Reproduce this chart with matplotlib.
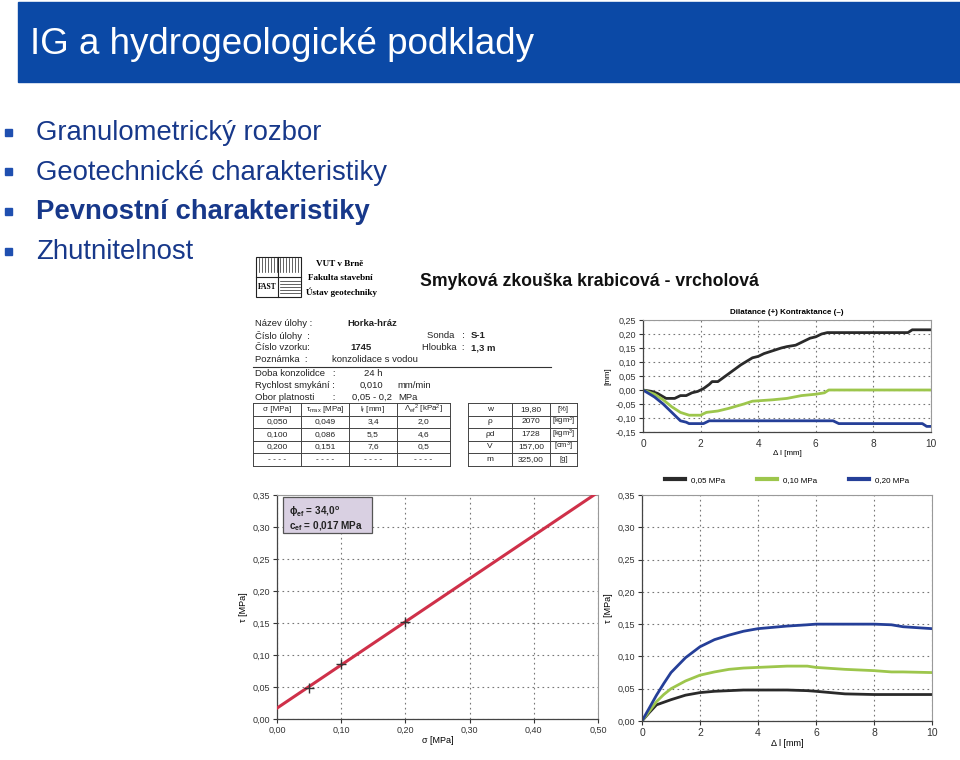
import matplotlib
matplotlib.use("Agg")
import matplotlib.pyplot as plt
from matplotlib.patches import Rectangle
import numpy as np

plt.rcParams['font.family'] = ['Liberation Sans', 'DejaVu Sans']
plt.rcParams['mathtext.fontset'] = 'custom'
plt.rcParams['mathtext.rm'] = 'Liberation Sans'
plt.rcParams['mathtext.it'] = 'Liberation Sans:italic'
plt.rcParams['mathtext.bf'] = 'Liberation Sans:bold'

# ---- slide text ----
slide_title = "IG a hydrogeologické podklady"
bullets = ["Granulometrický rozbor", "Geotechnické charakteristiky",
           "Pevnostní charakteristiky", "Zhutnitelnost"]
bold_bullet = 2

# ---- test protocol ----
sigma = [0.050, 0.100, 0.200]
tau_max = [0.049, 0.086, 0.151]
l_f = [3.4, 5.5, 7.6]
lam_ef = [2.0, 4.6, 0.5]
phys_names = ["w", "ρ", "ρd", "V", "m"]
phys_values = ["19,80", "2070", "1728", "157,00", "325,00"]
phys_units = ["[%]", "[kgm$^3$]", "[kgm$^3$]", "[cm$^3$]", "[g]"]
phi_ef = 34.0
c_ef = 0.017

# ---- dilatance curves (dl [mm], dh [mm]) ----
dil_x_005 = [0, 0.3, 0.5, 0.8, 1.1, 1.3, 1.5, 1.7, 1.9, 2.1, 2.3, 2.4, 2.6, 3.0, 3.4,
             3.8, 4.0, 4.2, 4.5, 4.8, 5.0, 5.3, 5.5, 5.8, 6.0, 6.2, 6.4, 9.2, 9.35, 10]
dil_y_005 = [0, -0.005, -0.012, -0.03, -0.03, -0.02, -0.02, -0.01, -0.005, 0.005, 0.02, 0.03,
             0.03, 0.06, 0.09, 0.115, 0.12, 0.13, 0.14, 0.15, 0.155, 0.16, 0.17, 0.185, 0.19,
             0.2, 0.205, 0.205, 0.215, 0.215]
dil_x_010 = [0, 0.4, 0.7, 1.0, 1.3, 1.6, 2.0, 2.2, 2.6, 3.0, 3.5, 3.8, 4.5, 5.0, 5.5,
             6.0, 6.3, 6.45, 10]
dil_y_010 = [0, -0.015, -0.035, -0.06, -0.08, -0.09, -0.09, -0.08, -0.075, -0.065, -0.05,
             -0.04, -0.035, -0.03, -0.02, -0.015, -0.01, 0.0, 0.0]
dil_x_020 = [0, 0.4, 0.7, 0.9, 1.1, 1.3, 1.5, 1.6, 2.1, 2.3, 6.6, 6.8, 9.7, 9.85, 10]
dil_y_020 = [0, -0.025, -0.05, -0.07, -0.09, -0.11, -0.115, -0.12, -0.12, -0.11, -0.11,
             -0.12, -0.12, -0.13, -0.13]

# ---- shear stress curves (dl [mm], tau [MPa]) ----
sh_x = [0, 0.25, 0.5, 0.75, 1.0, 1.5, 2.0, 2.5, 3.0, 3.5, 4.0, 5.0, 5.7, 6.0, 7.0, 8.0,
        8.6, 9.0, 10.0]
sh_005 = [0, 0.013, 0.025, 0.029, 0.033, 0.040, 0.044, 0.046, 0.047, 0.048, 0.048, 0.048,
          0.047, 0.046, 0.042, 0.041, 0.041, 0.041, 0.041]
sh_010 = [0, 0.015, 0.030, 0.041, 0.050, 0.062, 0.071, 0.076, 0.080, 0.082, 0.083, 0.085,
          0.085, 0.083, 0.080, 0.078, 0.076, 0.076, 0.075]
sh_020 = [0, 0.020, 0.040, 0.058, 0.075, 0.098, 0.115, 0.126, 0.133, 0.139, 0.143, 0.147,
          0.149, 0.150, 0.150, 0.150, 0.149, 0.146, 0.143]

series_labels = ["0,05 MPa", "0,10 MPa", "0,20 MPa"]
series_colors = ["#2a2a2a", "#9dc64c", "#253f98"]

W, H = 960, 760
fig = plt.figure(figsize=(W / 100, H / 100), dpi=100)
fig.patch.set_facecolor("white")


def rect(x0, y0, x1, y1):
    return [x0 / W, 1 - y1 / H, (x1 - x0) / W, (y1 - y0) / H]


def comma(v, nd):
    return f"{v:.{nd}f}".replace(".", ",")


# overlay in pixel coordinates
ov = fig.add_axes([0, 0, 1, 1])
ov.set_xlim(0, W)
ov.set_ylim(H, 0)
ov.axis("off")

# header
ov.add_patch(Rectangle((18, 2), 942, 80, color="#0b49a6"))
ov.text(30, 45, slide_title, color="white", fontsize=26.5, va="center")

for i, b in enumerate(bullets):
    y = 133 + i * 39.7
    ov.add_patch(Rectangle((5, y - 4.5), 7, 7, color="#1f4fb0"))
    ov.text(36, y, b, color="#17388a", fontsize=19.8, va="center",
            fontweight="bold" if i == bold_bullet else "normal")

# logo
lc = "#222222"
ov.add_patch(Rectangle((256, 257), 45, 40, fill=False, ec=lc, lw=0.8))
ov.plot([256, 301], [277, 277], color=lc, lw=0.8)
ov.plot([278, 278], [257, 297], color=lc, lw=0.8)
for xx in np.arange(259, 300, 3):
    ov.plot([xx, xx], [258, 272], color=lc, lw=0.5)
for yy in np.arange(281, 296, 3):
    ov.plot([280, 300], [yy, yy], color=lc, lw=0.5)
ov.text(267, 287, "FAST", fontsize=5.5, ha="center", va="center",
        family="Liberation Serif", fontweight="bold")
for k, t in enumerate(["VUT v Brně", "Fakulta stavební", "Ústav geotechniky"]):
    ov.text(316 if k == 0 else (308 if k == 1 else 306), 264 + k * 14, t, fontsize=6.6,
            va="center", family="Liberation Serif", fontweight="bold")

ov.text(420, 281, "Smyková zkouška krabicová - vrcholová", fontsize=12.7,
        fontweight="bold", va="center", color="#111111")

# info block
fs = 6.8
tc = "#222222"
ov.text(255, 323, "Název úlohy :", fontsize=fs, va="center", color=tc)
ov.text(347, 323, "Horka-hráz", fontsize=fs, va="center", fontweight="bold", color=tc)
ov.text(255, 336, "Číslo úlohy  :", fontsize=fs, va="center", color=tc)
ov.text(427, 336, "Sonda   :", fontsize=fs, va="center", color=tc)
ov.text(471, 336, "S-1", fontsize=fs, va="center", fontweight="bold", color=tc)
ov.text(255, 348, "Číslo vzorku:", fontsize=fs, va="center", color=tc)
ov.text(350, 348, "1745", fontsize=fs, va="center", fontweight="bold", color=tc)
ov.text(422, 348, "Hloubka  :", fontsize=fs, va="center", color=tc)
ov.text(471, 348, "1,3 m", fontsize=fs, va="center", fontweight="bold", color=tc)
ov.text(255, 360, "Poznámka  :", fontsize=fs, va="center", color=tc)
ov.text(332, 360, "konzolidace s vodou", fontsize=fs, va="center", color=tc)
ov.plot([253, 551], [366.5, 366.5], color="#333333", lw=0.8)
ov.text(255, 373, "Doba konzolidce   :", fontsize=fs, va="center", color=tc)
ov.text(364, 373, "24 h", fontsize=fs, va="center", color=tc)
ov.text(255, 385, "Rychlost smykání :", fontsize=fs, va="center", color=tc)
ov.text(360, 385, "0,010", fontsize=fs, va="center", color=tc)
ov.text(397, 385, "mm/min", fontsize=fs, va="center", color=tc)
ov.text(255, 397, "Obor platnosti       :", fontsize=fs, va="center", color=tc)
ov.text(352, 397, "0,05 - 0,2", fontsize=fs, va="center", color=tc)
ov.text(398, 397, "MPa", fontsize=fs, va="center", color=tc)

# left table
tx = [253, 301, 349, 397, 450]
ty = [403, 415.5, 428, 440.5, 453, 465.5]
for x in tx:
    ov.plot([x, x], [ty[0], ty[-1]], color="#444444", lw=0.7)
for y in ty:
    ov.plot([tx[0], tx[-1]], [y, y], color="#444444", lw=0.7)
heads = ["σ [MPa]", "τ$_\\mathrm{max}$ [MPa]", "l$_\\mathrm{f}$ [mm]",
         "Λ$_\\mathrm{ef}$$^\\mathrm{2}$ [kPa$^\\mathrm{2}$]"]
for j, h in enumerate(heads):
    ov.text((tx[j] + tx[j + 1]) / 2, (ty[0] + ty[1]) / 2, h, fontsize=5.8,
            ha="center", va="center", color=tc)
rows = [[comma(s, 3), comma(t, 3), comma(l, 1), comma(a, 1)]
        for s, t, l, a in zip(sigma, tau_max, l_f, lam_ef)]
rows.append(["- - - -"] * 4)
for i, r in enumerate(rows):
    for j, v in enumerate(r):
        ov.text((tx[j] + tx[j + 1]) / 2, (ty[i + 1] + ty[i + 2]) / 2, v, fontsize=6,
                ha="center", va="center", color=tc)

# right table
rx = [468, 512, 550, 577]
for x in rx:
    ov.plot([x, x], [ty[0], ty[-1]], color="#444444", lw=0.7)
for y in ty:
    ov.plot([rx[0], rx[-1]], [y, y], color="#444444", lw=0.7)
for i in range(5):
    yc = (ty[i] + ty[i + 1]) / 2
    ov.text((rx[0] + rx[1]) / 2, yc, phys_names[i], fontsize=6, ha="center", va="center", color=tc)
    ov.text((rx[1] + rx[2]) / 2, yc, phys_values[i], fontsize=6, ha="center", va="center", color=tc)
    ov.text((rx[2] + rx[3]) / 2, yc, phys_units[i], fontsize=5.5, ha="center", va="center", color=tc)


def style_axes(ax):
    ax.grid(True, color="#777777", lw=0.8, ls=(0, (1.5, 3)))
    ax.tick_params(labelsize=6.5, length=3, width=0.8, colors="#333333", pad=2)
    for s in ["top", "right"]:
        ax.spines[s].set_color("#9a9a9a")
        ax.spines[s].set_linewidth(0.8)
    for s in ["left", "bottom"]:
        ax.spines[s].set_color("#444444")
        ax.spines[s].set_linewidth(0.9)
    ax.set_facecolor("white")


# dilatance chart
ax1 = fig.add_axes(rect(643, 320, 931, 432))
for xs, ys, c in zip([dil_x_005, dil_x_010, dil_x_020], [dil_y_005, dil_y_010, dil_y_020],
                     series_colors):
    ax1.plot(xs, ys, color=c, lw=2.0)
ax1.set_xlim(0, 10)
ax1.set_ylim(-0.15, 0.25)
ax1.set_xticks(range(0, 11, 2))
ax1.set_yticks(np.arange(-0.15, 0.251, 0.05))
ax1.set_yticklabels([comma(v, 2) for v in np.arange(-0.15, 0.251, 0.05)])
style_axes(ax1)
ax1.tick_params(axis="x", length=0, pad=5, labelsize=7.3)
ax1.set_xlabel("Δ l [mm]", fontsize=5.8, labelpad=1)
ax1.set_ylabel("[mm]", fontsize=5.8, labelpad=3)
ax1.set_title("Dilatance (+) Kontraktance (–)", fontsize=5.8, fontweight="bold", pad=4)
leg = ax1.legend(series_labels, loc="upper center", bbox_to_anchor=(0.5, -0.33), ncol=3,
                 frameon=False, fontsize=5.8, handlelength=2.5, handletextpad=0.7,
                 columnspacing=4.0)
for line in leg.get_lines():
    line.set_linewidth(3)

# shear envelope
ax2 = fig.add_axes(rect(277, 495, 598, 719))
sg = np.array([0.0, 0.5])
ax2.plot(sg, c_ef + sg * np.tan(np.radians(phi_ef)), color="#cf3049", lw=2.2, zorder=3)
ax2.plot(sigma, tau_max, "+", color="#333333", ms=7, mew=1.0, zorder=4)
ax2.set_xlim(0, 0.5)
ax2.set_ylim(0, 0.35)
xt = np.arange(0, 0.501, 0.1)
yt = np.arange(0, 0.351, 0.05)
ax2.set_xticks(xt)
ax2.set_xticklabels([comma(v, 2) for v in xt])
ax2.set_yticks(yt)
ax2.set_yticklabels([comma(v, 2) for v in yt])
style_axes(ax2)
ax2.set_xlabel("σ [MPa]", fontsize=6.5, labelpad=1)
ax2.set_ylabel("τ [MPa]", fontsize=6.5, labelpad=3)
ax2.add_patch(Rectangle((0.0187, 0.830), 0.277, 0.161, transform=ax2.transAxes,
                        fc="#d9d0e2", ec="#555555", lw=0.9, zorder=5))
ax2.text(0.037, 0.924, "ϕ$_\\mathbf{ef}$ = " + comma(phi_ef, 1) + "$^\\mathbf{o}$",
         transform=ax2.transAxes, fontsize=7.2, fontweight="bold", va="center",
         color="#222222", zorder=6)
ax2.text(0.037, 0.862, "c$_\\mathbf{ef}$ = " + comma(c_ef, 3) + " MPa",
         transform=ax2.transAxes, fontsize=7.2, fontweight="bold", va="center",
         color="#222222", zorder=6)

# shear curves
ax3 = fig.add_axes(rect(642, 495, 932, 721))
for ys, c in zip([sh_005, sh_010, sh_020], series_colors):
    ax3.plot(sh_x, ys, color=c, lw=2.0)
ax3.set_xlim(0, 10)
ax3.set_ylim(0, 0.35)
ax3.set_xticks(range(0, 11, 2))
ax3.set_yticks(yt)
ax3.set_yticklabels([comma(v, 2) for v in yt])
style_axes(ax3)
ax3.tick_params(axis="x", labelsize=7.5)
ax3.set_xlabel("Δ l [mm]", fontsize=6.5, labelpad=1)
ax3.set_ylabel("τ [MPa]", fontsize=6.5, labelpad=3)

fig.savefig("out.png", dpi=100, facecolor="white")
